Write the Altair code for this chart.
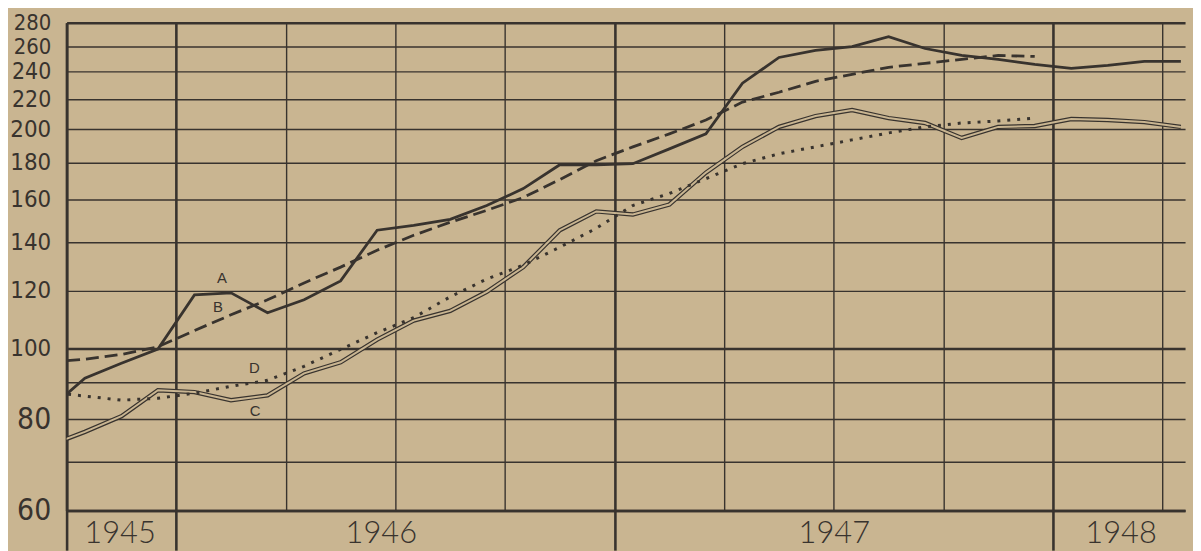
import altair as alt
import pandas as pd

# ---------------- data ----------------
months = ["1945-09", "1945-10", "1945-11", "1945-12",
          "1946-01", "1946-02", "1946-03", "1946-04", "1946-05", "1946-06",
          "1946-07", "1946-08", "1946-09", "1946-10", "1946-11", "1946-12",
          "1947-01", "1947-02", "1947-03", "1947-04", "1947-05", "1947-06",
          "1947-07", "1947-08", "1947-09", "1947-10", "1947-11", "1947-12",
          "1948-01", "1948-02", "1948-03", "1948-04"]

series_a = [82.4, 91.1, 95.5, 99.9, 118.5, 119.3, 112.0, 116.7, 123.9, 145.4,
            147.6, 150.5, 157.2, 165.8, 178.8, 178.8, 179.4, 188.0, 197.1, 231.3,
            250.9, 256.5, 259.7, 268.0, 258.1, 252.5, 249.4, 245.5, 242.4, 244.7,
            247.8, 247.8]
series_b = [95.9, 96.7, 98.2, 100.6, 105.9, 111.3, 116.7, 123.1, 129.4, 136.5,
            143.1, 149.1, 154.8, 161.2, 170.6, 181.1, 189.2, 197.1, 205.9, 217.9,
            224.8, 232.7, 237.9, 243.2, 246.3, 249.4, 252.5, 251.7]
series_c = [73.6, 76.9, 80.8, 87.7, 87.2, 85.0, 86.3, 92.5, 95.8, 102.9,
            109.3, 112.7, 119.7, 129.4, 145.4, 154.3, 152.8, 157.7, 174.4, 189.2,
            201.5, 208.5, 212.5, 207.2, 204.0, 194.6, 201.5, 202.1, 206.6, 205.9,
            204.6, 201.5]
series_d = [87.2, 86.1, 85.0, 85.5, 86.9, 88.8, 90.5, 94.6, 99.8, 105.2,
            110.3, 117.8, 124.6, 130.2, 137.8, 146.3, 157.2, 163.3, 171.1, 179.4,
            185.1, 189.2, 193.4, 197.7, 201.5, 204.0, 205.3, 207.2]

letters = ["A", "B", "C", "D"]
letter_month = [4.25, 4.14, 5.16, 5.14]
letter_value = [124.9, 114.1, 82.2, 94.2]

y_ticks = [60, 70, 80, 90, 100, 120, 140, 160, 180, 200, 220, 240, 260, 280]
year_labels = ["1945", "1946", "1947", "1948"]
year_label_pos = [1.45, 8.6, 21, 28.85]
quarter_lines = [0, 3, 6, 9, 12, 15, 18, 21, 24, 27, 30]
year_lines = [0, 3, 15, 27]

# ---------------- build tables ----------------
rows = []
for name, vals in (("A", series_a), ("B", series_b), ("C", series_c), ("D", series_d)):
    for i, v in enumerate(vals):
        rows.append({"month": months[i], "t": i - 0.5, "series": name, "value": v})
df = pd.DataFrame(rows)
letters_df = pd.DataFrame({"letter": letters, "t": letter_month, "value": letter_value})

PAPER = "#c9b591"
INK = "#38332e"
NARROW = "'Liberation Sans Narrow', 'DejaVu Sans Condensed', 'Roboto Condensed', 'Arial Narrow', 'Liberation Sans', sans-serif"

year_test = " || ".join(f"datum.value == {v}" for v in year_lines)
label_expr = " : ".join(f"datum.value == {p} ? '{l}'" for p, l in zip(year_label_pos, year_labels)) + " : ''"

x_axis = alt.Axis(
    values=sorted(set(quarter_lines + year_label_pos)),
    labelExpr=label_expr,
    grid=True,
    gridColor=INK,
    gridOpacity=alt.condition("datum.value % 3 == 0", alt.value(1), alt.value(0)),
    gridWidth=alt.condition(year_test, alt.value(2.6), alt.value(1.4)),
    ticks=True,
    tickColor=INK,
    tickSize=40,
    tickWidth=2.6,
    tickOpacity=alt.condition(year_test, alt.value(1), alt.value(0)),
    domain=True,
    domainColor=INK,
    domainWidth=2.6,
    labelPadding=-32,
    labelFont="Lato, 'Open Sans', sans-serif",
    labelFontWeight=300,
    labelFontSize=31,
    labelColor=INK,
    labelBaseline="top",
    labelOverlap=False,
    labelFlush=False,
    labelBound=False,
    title=None,
)

y_axis = alt.Axis(
    values=y_ticks,
    labelExpr="datum.value == 70 || datum.value == 90 ? '' : '' + datum.value",
    grid=True,
    gridColor=INK,
    gridOpacity=1,
    gridWidth=alt.condition("datum.value == 60 || datum.value == 100 || datum.value == 280",
                            alt.value(2.5), alt.value(1.4)),
    ticks=False,
    domain=True,
    domainColor=INK,
    domainWidth=2.6,
    labelPadding=16,
    labelFont=NARROW,
    labelFontSize={"condition": [{"test": "datum.value < 100", "value": 30},
                                 {"test": "datum.value >= 260", "value": 22},
                                 {"test": "datum.value >= 220", "value": 23}],
                   "value": 24},
    labelColor=INK,
    labelBaseline="middle",
    labelAlign="right",
    labelOverlap=False,
    labelFlush=False,
    labelBound=False,
    title=None,
)

x_scale = alt.Scale(domain=[0, 30.615], nice=False, zero=False)
y_scale = alt.Scale(type="log", domain=[60, 280], nice=False)

x_enc = alt.X("t:Q", scale=x_scale, axis=x_axis)
y_enc = alt.Y("value:Q", scale=y_scale, axis=y_axis)

base = alt.Chart(df).encode(x=x_enc, y=y_enc, order="t:Q")

line_a = base.transform_filter("datum.series == 'A'").mark_line(
    color=INK, strokeWidth=2.8, clip=True, strokeJoin="miter")
line_b = base.transform_filter("datum.series == 'B'").mark_line(
    color=INK, strokeWidth=2.8, strokeDash=[13, 6], clip=True)
line_c_outer = base.transform_filter("datum.series == 'C'").mark_line(
    color=INK, strokeWidth=4.4, clip=True)
line_c_inner = base.transform_filter("datum.series == 'C'").mark_line(
    color=PAPER, strokeWidth=2.0, clip=True)
line_d = base.transform_filter("datum.series == 'D'").mark_line(
    color=INK, strokeWidth=3, strokeDash=[3, 7], clip=True)

letter_text = alt.Chart(letters_df).mark_text(
    font="'Liberation Sans', 'DejaVu Sans', sans-serif", fontSize=15, color=INK,
    align="center", baseline="middle"
).encode(x=x_enc, y=y_enc, text="letter:N")

chart = alt.layer(line_a, line_b, line_c_outer, line_c_inner, line_d, letter_text).properties(
    width=1126,
    height=491,
    autosize=alt.AutoSizeParams(type="none"),
    padding={"top": 13, "left": 59, "right": 8, "bottom": 39},
    background=PAPER,
).configure_view(stroke=None)

chart.save("out.html", embed_options={"renderer": "svg", "actions": False})
